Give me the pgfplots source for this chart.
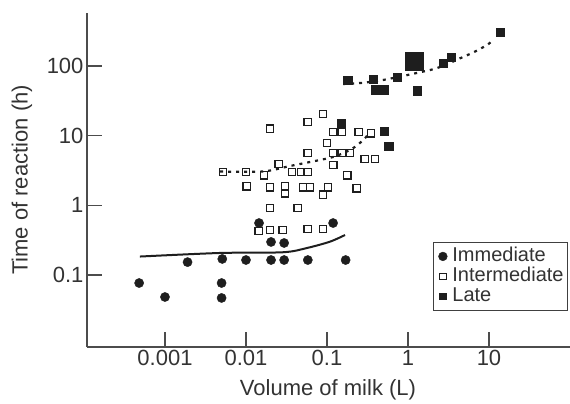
\documentclass[border=0pt]{standalone}
\usepackage{fontspec}
\setmainfont{Liberation Sans}
\usepackage{pgfplots}
\pgfplotsset{compat=1.18}
\definecolor{ink}{HTML}{1E1E1E}
\begin{document}
\begin{tikzpicture}
\begin{axis}[name=ax, scale only axis, width=483pt, height=334pt,
  xmode=log, ymode=log,
  xmin=1.09e-4, xmax=100, ymin=0.00925, ymax=577,
  axis lines=left, axis line style={-, line width=1.6pt, black!70},
  xtick={0.001,0.01,0.1,1,10}, xticklabels={0.001,0.01,0.1,1,10},
  ytick={0.1,1,10,100}, yticklabels={0.1,1,10,100},
  xminorticks=false, yminorticks=false,
  tick align=inside, major tick length=15pt,
  tick style={line width=1.6pt, black!70},
  /pgf/number format/assume math mode=true,
  tick label style={font=\fontsize{22}{24}\selectfont, text=black!80},
  label style={font=\fontsize{22}{24}\selectfont, text=black!80},
  xlabel={Volume of milk (L)}, ylabel={Time of reaction (h)},
  xlabel style={at={(axis description cs:0.499,-0.129)}, anchor=center},
  ylabel style={at={(axis description cs:-0.1346,0.5)}, anchor=center},
  legend style={at={(0.996,0.108)}, anchor=south east,
    font=\fontsize{20}{20}\selectfont, text=black!80,
    draw=black!75, line width=1pt, inner xsep=3pt, inner ysep=4pt,
    nodes={inner xsep=1pt, inner ysep=1pt, text height=14pt, text depth=4pt},
    row sep=0pt, column sep=2pt},
  legend cell align=left,
  legend image code/.code={\path (0pt,0pt) (12pt,0pt); \draw[#1] plot coordinates {(6pt,0pt)};},
]
% legend images
\addlegendimage{only marks, mark=*, mark size=4.4pt, ink, mark options={line width=0.4pt}}
\addlegendentry{Immediate}
\addlegendimage{only marks, mark=square, mark size=3.3pt, ink, mark options={line width=1.1pt}}
\addlegendentry{Intermediate}
\addlegendimage{only marks, mark=square*, mark size=3.2pt, ink, mark options={line width=0.4pt}}
\addlegendentry{Late}

% Intermediate (open squares)
\addplot[forget plot, only marks, mark=square, mark size=3.8pt, ink, mark options={line width=1.3pt}] coordinates {
(0.0052,3.01) (0.010,3.01) (0.0167,2.72) (0.0255,3.92) (0.037,3.01) (0.0478,3.01) (0.0582,3.01)
(0.0198,12.5) (0.0582,15.7) (0.0893,20.5) (0.119,11.3) (0.153,11.3) (0.248,11.3) (0.349,10.9)
(0.100,7.85) (0.0582,5.64) (0.119,5.64) (0.153,5.64) (0.192,5.64) (0.294,4.62) (0.392,4.62)
(0.119,3.79) (0.177,2.72) (0.0102,1.89) (0.0198,1.83) (0.0303,1.89) (0.0303,1.50) (0.0506,1.83)
(0.0617,1.83) (0.103,1.83) (0.234,1.77) (0.0893,1.41) (0.0198,0.916) (0.0438,0.916)
(0.0144,0.428) (0.0198,0.442) (0.0286,0.442) (0.0582,0.457) (0.0893,0.457)
};
% Immediate (filled circles)
\addplot[forget plot, only marks, mark=*, mark size=4.6pt, ink, mark options={line width=0.4pt}] coordinates {
(0.00048,0.0767) (0.001,0.0483) (0.0019,0.153) (0.0051,0.170) (0.005,0.0767) (0.005,0.0468)
(0.010,0.164) (0.0145,0.557) (0.0204,0.298) (0.0204,0.164) (0.0296,0.288) (0.0296,0.164)
(0.058,0.164) (0.119,0.557) (0.17,0.164)
};
% Late (filled squares)
\addplot[forget plot, only marks, mark=square*, mark size=4.2pt, ink, mark options={line width=0.4pt}] coordinates {
(0.18,63) (0.37,65) (0.40,46) (0.50,46) (0.73,69) (1.29,44) (2.70,110) (3.40,135) (13.7,308)
(0.149,15.2) (0.506,11.7) (0.58,7.1)
};
\addplot[forget plot, only marks, mark=square*, mark size=8.8pt, ink, mark options={line width=0.4pt}] coordinates {
(1.19,118)
};
% fits
\addplot[forget plot, ink, line width=2pt, smooth] coordinates {
(0.00049,0.184) (0.00477,0.207) (0.0286,0.212) (0.0566,0.244) (0.109,0.301) (0.167,0.375)
};
\addplot[forget plot, ink, line width=2.2pt, smooth, dash pattern=on 3pt off 5pt] coordinates {
(0.0048,3.06) (0.0162,3.06) (0.0349,3.67) (0.0617,4.19) (0.119,4.94) (0.192,6.22) (0.255,7.85) (0.32,10.2)
};
\addplot[forget plot, ink, line width=2.2pt, smooth, dash pattern=on 3pt off 5pt] coordinates {
(0.158,55.2) (0.28,57.5) (0.491,63) (0.867,71.9) (1.41,81.4) (2.04,89.8) (2.86,103) (4.39,129) (6.34,156) (9.44,200) (11.2,236)
};
\end{axis}
\pgfresetboundingbox
\useasboundingbox ([shift={(-87pt,-57pt)}]ax.south west) rectangle ([shift={(0pt,13pt)}]ax.north east);
\end{tikzpicture}
\end{document}
